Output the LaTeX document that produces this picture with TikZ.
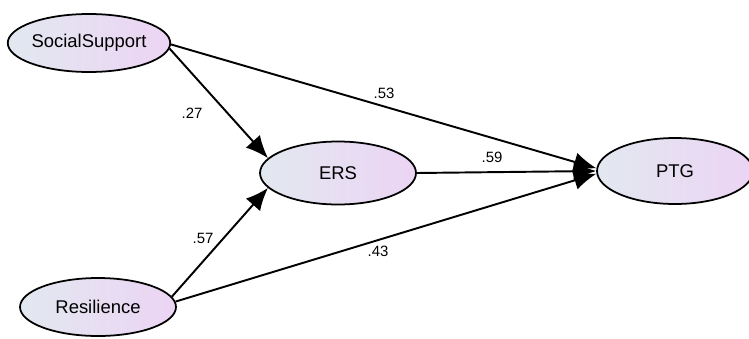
\documentclass[tikz,border=0pt]{standalone}
\usepackage{fontspec}
\setmainfont{Liberation Sans}
\usetikzlibrary{shapes.geometric}
\usetikzlibrary{arrows.meta}
\definecolor{fillleft}{RGB}{226,232,240}
\definecolor{fillright}{RGB}{236,212,244}
\tikzset{latent/.style={ellipse, draw=black, line width=1pt, minimum width=3.12cm, minimum height=1.16cm, inner sep=0pt, left color=fillleft, right color=fillright, font=\fontsize{10.5}{12}\selectfont},
path/.style={-{Latex[length=4.5mm,width=3.8mm]}, line width=1.1pt},
coef/.style={font=\fontsize{8.5}{10}\selectfont, inner sep=1pt}}

\begin{document}
\begin{tikzpicture}[x=0.02cm,y=-0.02cm]
      \useasboundingbox (0,0) rectangle (749,338);
      \node[latent] (ss) at (89,43) {SocialSupport};
      \node[latent] (res) at (98,307) {Resilience};
      \node[latent, minimum height=1.26cm] (ers) at (338,173) {ERS};
      \node[latent, minimum height=1.32cm] (ptg) at (675,171) {PTG};

      \draw[path] (ss.-4) -- (ers.168);
      \draw[path] (ss.-1) -- (ptg.178);
      \draw[path] (ers.east) -- (ptg.west);
      \draw[path] (res.8) -- (ers.192);
      \draw[path] (res.4) -- (ptg.182);

      \node[coef] (c1) at (384,93) {.53};
      \node[coef] (c2) at (192,113) {.27};
      \node[coef] (c3) at (492,157) {.59};
      \node[coef] (c4) at (203,238) {.57};
      \node[coef] (c5) at (378,251) {.43};
  \end{tikzpicture}
\end{document}
